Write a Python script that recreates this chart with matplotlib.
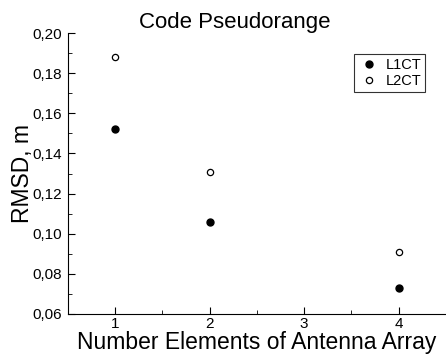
import matplotlib
matplotlib.use('Agg')
import matplotlib.pyplot as plt
from matplotlib.ticker import FuncFormatter, MultipleLocator

plt.rcParams['font.family'] = ['Liberation Sans', 'DejaVu Sans']

elements = [1, 2, 4]
l1ct = [0.152, 0.106, 0.073]
l2ct = [0.188, 0.131, 0.091]

fig = plt.figure(figsize=(4.46, 3.56), dpi=100)
ax = fig.add_axes([0.152, 0.118, 0.848, 0.789])

ax.plot(elements, l1ct, 'o', color='black', markersize=5, label='L1CT')
ax.plot(elements, l2ct, 'o', markerfacecolor='white', markeredgecolor='black',
        markeredgewidth=0.9, markersize=4.5, label='L2CT')

ax.set_xlim(0.5, 4.5)
ax.set_ylim(0.06, 0.20)
ax.xaxis.set_major_locator(MultipleLocator(1))
ax.xaxis.set_minor_locator(MultipleLocator(0.5))
ax.yaxis.set_major_locator(MultipleLocator(0.02))
ax.yaxis.set_minor_locator(MultipleLocator(0.01))
ax.yaxis.set_major_formatter(FuncFormatter(lambda v, p: f'{v:.2f}'.replace('.', ',')))
ax.tick_params(which='both', direction='in', labelsize=11)
ax.tick_params(axis='y', pad=4)
ax.tick_params(axis='x', pad=2)
ax.tick_params(which='major', length=5)
ax.tick_params(which='minor', length=3)

ax.spines['top'].set_visible(False)
ax.spines['right'].set_visible(False)

ax.set_title('Code Pseudorange', fontsize=16, x=0.442, pad=1)
ax.set_xlabel('Number Elements of Antenna Array', fontsize=16.5, labelpad=0)
ax.set_ylabel('RMSD, m', fontsize=16.5, labelpad=-1)

leg = ax.legend(loc='upper right', bbox_to_anchor=(0.963, 0.95), fontsize=10.5,
                frameon=True, fancybox=False, edgecolor='black',
                handletextpad=0.4, borderpad=0.25, labelspacing=0.15, handlelength=1.5)
leg.get_frame().set_linewidth(0.8)

fig.savefig('out.png', dpi=100)
